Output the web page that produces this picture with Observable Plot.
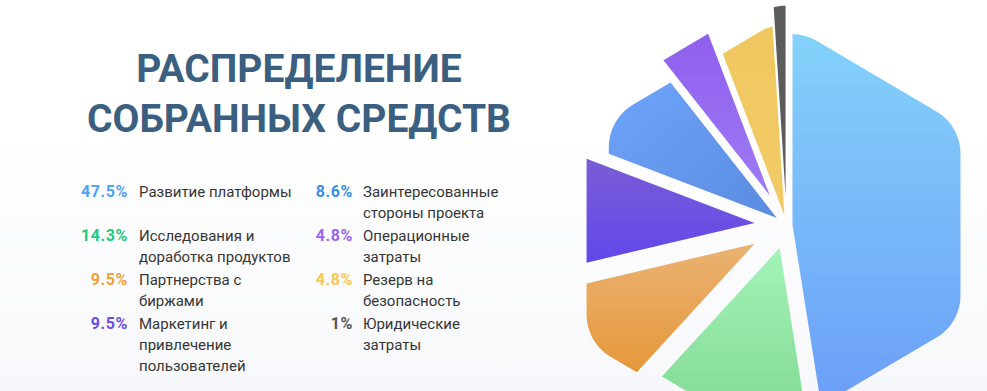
<!DOCTYPE html>
<html><head><meta charset="utf-8">
<script src="https://cdn.jsdelivr.net/npm/d3@7"></script>
<script src="https://cdn.jsdelivr.net/npm/@observablehq/plot@0.6"></script>
<style>
html,body{margin:0;padding:0;}
body{width:987px;height:391px;overflow:hidden;position:relative;background:linear-gradient(180deg,#ffffff 0%,#ffffff 33%,#f7f8fb 100%);font-family:Roboto,"Noto Sans",sans-serif;}
#chart{position:absolute;left:0;top:0;}
#title{position:absolute;left:0;top:44px;width:598px;text-align:center;font-weight:700;font-size:39px;line-height:50px;color:#3b5f80;margin:0;}
.item{position:absolute;display:flex;align-items:baseline;}
.pct{font-weight:700;font-size:16px;letter-spacing:0.6px;text-align:right;line-height:21px;width:60px;}
.lbl{font-size:15px;line-height:21px;color:#363636;white-space:pre-line;margin-left:11px;}
</style></head>
<body>
<svg width="0" height="0" style="position:absolute">
<defs>
<linearGradient id="g0" x1="0" y1="0" x2="0" y2="1"><stop offset="0" stop-color="#84d2fb"/><stop offset="1" stop-color="#6b9ef8"/></linearGradient>
<linearGradient id="g1" x1="0" y1="0" x2="0" y2="1"><stop offset="0" stop-color="#a2f3b8"/><stop offset="1" stop-color="#80d690"/></linearGradient>
<linearGradient id="g2" x1="0" y1="0" x2="0" y2="1"><stop offset="0" stop-color="#eab273"/><stop offset="1" stop-color="#e5983a"/></linearGradient>
<linearGradient id="g3" x1="0" y1="0" x2="0" y2="1"><stop offset="0" stop-color="#7b5dd6"/><stop offset="1" stop-color="#6247ea"/></linearGradient>
<linearGradient id="g4" x1="0" y1="0" x2="1" y2="1"><stop offset="0" stop-color="#6da4fa"/><stop offset="1" stop-color="#5a8ce0"/></linearGradient>
<linearGradient id="g5" x1="0" y1="0" x2="0" y2="1"><stop offset="0" stop-color="#905fee"/><stop offset="1" stop-color="#9d7af4"/></linearGradient>
<linearGradient id="g6" x1="0" y1="0" x2="0" y2="1"><stop offset="0" stop-color="#f0c75e"/><stop offset="1" stop-color="#f1cb68"/></linearGradient>
<linearGradient id="g7" x1="0" y1="0" x2="0" y2="1"><stop offset="0" stop-color="#5c5c5c"/><stop offset="1" stop-color="#5c5c5c"/></linearGradient>
</defs>
</svg>
<div id="chart"></div>
<h1 id="title">РАСПРЕДЕЛЕНИЕ<br>СОБРАННЫХ СРЕДСТВ</h1>
<div id="legend"></div>
<script>
// ---- data ----
const categories = [
  "Развитие платформы",
  "Исследования и\nдоработка продуктов",
  "Партнерства с\nбиржами",
  "Маркетинг и\nпривлечение\nпользователей",
  "Заинтересованные\nстороны проекта",
  "Операционные\nзатраты",
  "Резерв на\nбезопасность",
  "Юридические\nзатраты"
];
const shares = [47.5, 14.3, 9.5, 9.5, 8.6, 4.8, 4.8, 1];
const shareLabels = ["47.5%", "14.3%", "9.5%", "9.5%", "8.6%", "4.8%", "4.8%", "1%"];
const legendColors = ["#4ea1f5", "#20cb7e", "#f6a036", "#6a4de6", "#3b8de6", "#9c62f0", "#fdc64c", "#555555"];

// ---- style / layout ----
const W = 987, H = 391;
const cx = 786, cy = 224.5;      // pie centre in page pixels
const R = 194, rr = 48, sy = 1.02; // hexagon radius, corner rounding, vertical stretch
const explode = [6, 24, 37, 32, 12, 34, 10, 29];

// rounded pointy-top hexagon (local coords, y down)
const hex = [];
const fc = R - rr / Math.sin(Math.PI / 3);
for (let k = 0; k < 6; k++) {
  const t = k * Math.PI / 3;
  const N = 14;
  for (let j = 0; j <= N; j++) {
    const p = t - Math.PI / 6 + j * (Math.PI / 3) / N;
    hex.push([fc * Math.sin(t) + rr * Math.sin(p), (-fc * Math.cos(t) - rr * Math.cos(p)) * sy]);
  }
}
function clipHalf(poly, u, sign) {
  const out = [];
  for (let i = 0; i < poly.length; i++) {
    const a = poly[i], b = poly[(i + 1) % poly.length];
    const fa = sign * (u[0] * a[1] - u[1] * a[0]);
    const fb = sign * (u[0] * b[1] - u[1] * b[0]);
    if (fa >= 0) out.push(a);
    if ((fa >= 0) !== (fb >= 0)) {
      const t = fa / (fa - fb);
      out.push([a[0] + t * (b[0] - a[0]), a[1] + t * (b[1] - a[1])]);
    }
  }
  return out;
}
const unit = a => [Math.sin(a), -Math.cos(a)];

const arcs = d3.pie().sort(null).value(d => d)(shares);
const slices = arcs.map((a, i) => {
  let poly = clipHalf(hex, unit(a.startAngle), 1);
  poly = clipHalf(poly, unit(a.endAngle), -1);
  const m = unit((a.startAngle + a.endAngle) / 2);
  const d = explode[i];
  return poly.map(([x, y]) => ({x: x + m[0] * d, y: y + m[1] * d, cat: categories[i]}));
});

const chart = Plot.plot({
  width: W, height: H, margin: 0,
  style: "background: transparent;",
  x: {domain: [-cx, W - cx], range: [0, W], axis: null},
  y: {domain: [-cy, H - cy], range: [0, H], axis: null},
  marks: slices.map((pts, i) => Plot.line(pts, {
    x: "x", y: "y", curve: "linear-closed", stroke: "none", fill: `url(#g${i})`
  }))
});
document.getElementById("chart").appendChild(chart);

// ---- legend ----
const legend = document.getElementById("legend");
categories.forEach((c, i) => {
  const col = i < 4 ? 0 : 1, row = i % 4;
  const item = document.createElement("div");
  item.className = "item";
  item.style.left = (col === 0 ? 68 : 293) + "px";
  item.style.top = (181 + row * 44) + "px";
  const p = document.createElement("span");
  p.className = "pct"; p.textContent = shareLabels[i]; p.style.color = legendColors[i];
  const l = document.createElement("span");
  l.className = "lbl"; l.textContent = c;
  if (col === 1) l.style.marginLeft = "10px";
  item.appendChild(p); item.appendChild(l);
  legend.appendChild(item);
});
</script>
</body></html>
